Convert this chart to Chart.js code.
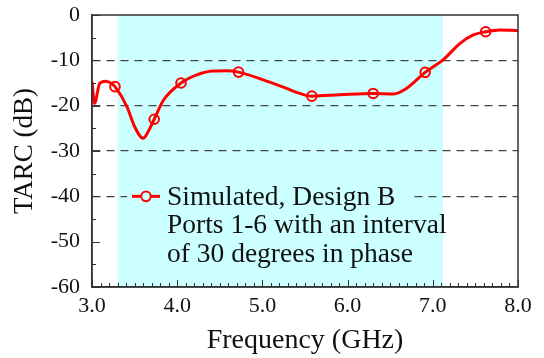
<!DOCTYPE html>
<html>
<head>
<meta charset="utf-8">
<script src="https://cdn.jsdelivr.net/npm/chart.js@4/dist/chart.umd.min.js"></script>
<style>
  html, body { margin: 0; padding: 0; background: #fff; }
  canvas { display: block; }
</style>
</head>
<body>
<canvas id="tarc" width="544" height="358"></canvas>
<script>
// Simulated TARC of Design B versus frequency
const curveFreq = [3.00, 3.03, 3.09, 3.16, 3.23, 3.27, 3.41, 3.50, 3.60, 3.66, 3.73, 3.84, 4.045, 4.23, 4.42, 4.58, 4.72, 5.01, 5.285, 5.44, 5.58, 5.91, 6.30, 6.54, 6.69, 6.91, 7.12, 7.32, 7.475, 7.62, 7.79, 8.00];
const curveTarc = [-14.7, -19.5, -15.1, -14.6, -15.1, -15.8, -20.2, -24.6, -27.2, -25.7, -23.0, -18.75, -15.0, -13.2, -12.35, -12.3, -12.6, -14.3, -16.2, -17.3, -17.9, -17.6, -17.3, -17.4, -16.2, -12.65, -9.9, -6.25, -4.4, -3.7, -3.3, -3.45];

// Symbols placed along the curve
const markerFreq = [3.27, 3.73, 4.045, 4.72, 5.58, 6.30, 6.91, 7.62];
const markerTarc = [-15.8, -23.0, -15.0, -12.6, -17.9, -17.3, -12.65, -3.7];

// Shaded operating band (GHz)
const passBand = [3.3, 7.12];

// Axis ranges and the dashed reference levels (dB)
const freqRange = [3, 8];
const tarcRange = [-60, 0];
const dashedLevels = [-10, -20, -30, -40];

const seriesLabel = 'Simulated, Design B';
const legendNote = ['Ports 1-6 with an interval', 'of 30 degrees in phase'];

const SERIF = '"Liberation Serif", "Times New Roman", Times, serif';
const RED = '#ff0000';
const INK = '#111111';
const AXIS = '#333333';
const BAND = '#ccffff';
const MARK_R = 4.8;

const toPoints = (xs, ys) => xs.map((x, i) => ({ x, y: ys[i] }));

// keep the plot box fixed: labels may overhang the padding
const noOverhang = s => {
  s.paddingTop = 0; s.paddingBottom = 0;
  s.paddingLeft = 0; s.paddingRight = 0;
};

const decor = {
  id: 'decor',
  beforeDraw(chart) {
    const { ctx, chartArea: a, scales: { x } } = chart;
    const x0 = x.getPixelForValue(passBand[0]);
    const x1 = x.getPixelForValue(passBand[1]);
    ctx.save();
    ctx.fillStyle = BAND;
    ctx.fillRect(x0, a.top, x1 - x0, a.bottom - a.top);
    ctx.restore();
  },
  afterDatasetsDraw(chart) {
    const { ctx, chartArea: a, scales: { y } } = chart;
    const rowY = y.getPixelForValue(-40);
    const lx = a.left + 40;
    const tx = lx + 35;
    ctx.save();
    // legend backdrop hides the reference line behind the text
    ctx.fillStyle = BAND;
    ctx.fillRect(a.left + 35, rowY - 12, 286, 24);
    // sample line and symbol
    ctx.strokeStyle = RED;
    ctx.lineWidth = 3;
    ctx.beginPath();
    ctx.moveTo(lx, rowY);
    ctx.lineTo(lx + 28, rowY);
    ctx.stroke();
    ctx.lineWidth = 2;
    ctx.beginPath();
    ctx.arc(lx + 14, rowY, MARK_R, 0, Math.PI * 2);
    ctx.fillStyle = BAND;
    ctx.fill();
    ctx.stroke();
    // text
    ctx.fillStyle = INK;
    ctx.font = '27.5px ' + SERIF;
    ctx.textBaseline = 'middle';
    ctx.textAlign = 'left';
    ctx.fillText(seriesLabel, tx, rowY + 1);
    legendNote.forEach((line, i) => ctx.fillText(line, tx, rowY + 1 + 28.5 * (i + 1)));
    ctx.restore();
  },
  afterDraw(chart) {
    const { ctx, chartArea: a, scales: { x, y } } = chart;
    ctx.save();
    ctx.strokeStyle = AXIS;
    ctx.lineWidth = 1;
    ctx.beginPath();
    // inward minor/major ticks on the frequency axis
    for (let i = 0; i <= 50; i++) {
      const v = freqRange[0] + i * 0.1;
      const px = Math.round(x.getPixelForValue(v)) + 0.5;
      const len = i % 10 === 0 ? 7 : 4;
      ctx.moveTo(px, a.bottom);
      ctx.lineTo(px, a.bottom - len);
    }
    // inward ticks on the TARC axis
    for (let v = tarcRange[0]; v <= tarcRange[1]; v += 5) {
      const py = Math.round(y.getPixelForValue(v)) + 0.5;
      const len = v % 10 === 0 ? 8 : 4;
      ctx.moveTo(a.left, py);
      ctx.lineTo(a.left + len, py);
    }
    ctx.stroke();
    // plot frame
    ctx.lineWidth = 1.5;
    ctx.strokeRect(a.left, a.top, a.right - a.left, a.bottom - a.top);
    ctx.restore();
  }
};

new Chart(document.getElementById('tarc'), {
  type: 'line',
  data: {
    datasets: [
      {
        label: seriesLabel,
        data: toPoints(curveFreq, curveTarc),
        borderColor: RED,
        borderWidth: 3,
        pointRadius: 0,
        fill: false,
        cubicInterpolationMode: 'monotone'
      },
      {
        label: seriesLabel + ' symbols',
        data: toPoints(markerFreq, markerTarc),
        showLine: false,
        pointStyle: 'circle',
        pointRadius: MARK_R,
        pointBorderWidth: 2,
        pointBorderColor: RED,
        pointBackgroundColor: 'rgba(0,0,0,0)'
      }
    ]
  },
  options: {
    responsive: false,
    animation: false,
    devicePixelRatio: 1,
    events: [],
    layout: { padding: { top: 15, right: 26, left: 0, bottom: 0 } },
    plugins: {
      legend: { display: false },
      tooltip: { enabled: false }
    },
    scales: {
      x: {
        type: 'linear',
        min: freqRange[0],
        max: freqRange[1],
        afterFit: s => { s.height = 71; noOverhang(s); },
        ticks: {
          stepSize: 1,
          autoSkip: false,
          maxRotation: 0,
          padding: 6,
          color: INK,
          font: { family: SERIF, size: 22 },
          callback: v => Number(v).toFixed(1)
        },
        grid: { display: false, drawTicks: false },
        border: { display: true, color: AXIS, width: 1.5 },
        title: {
          display: true,
          text: 'Frequency (GHz)',
          color: INK,
          font: { family: SERIF, size: 28 },
          padding: { top: 0, bottom: 1 }
        }
      },
      y: {
        type: 'linear',
        min: tarcRange[0],
        max: tarcRange[1],
        afterFit: s => { s.width = 92; noOverhang(s); },
        ticks: {
          stepSize: 10,
          padding: 12,
          color: INK,
          font: { family: SERIF, size: 22 }
        },
        grid: {
          drawTicks: false,
          lineWidth: 1.3,
          color: c => dashedLevels.includes(c.tick && c.tick.value) ? '#444444' : 'rgba(0,0,0,0)'
        },
        border: { display: true, color: AXIS, width: 1.5, dash: [8, 6] },
        title: {
          display: true,
          text: 'TARC (dB)',
          color: INK,
          font: { family: SERIF, size: 27 },
          padding: { top: 9, bottom: 0 }
        }
      }
    }
  },
  plugins: [decor]
});
</script>
</body>
</html>
